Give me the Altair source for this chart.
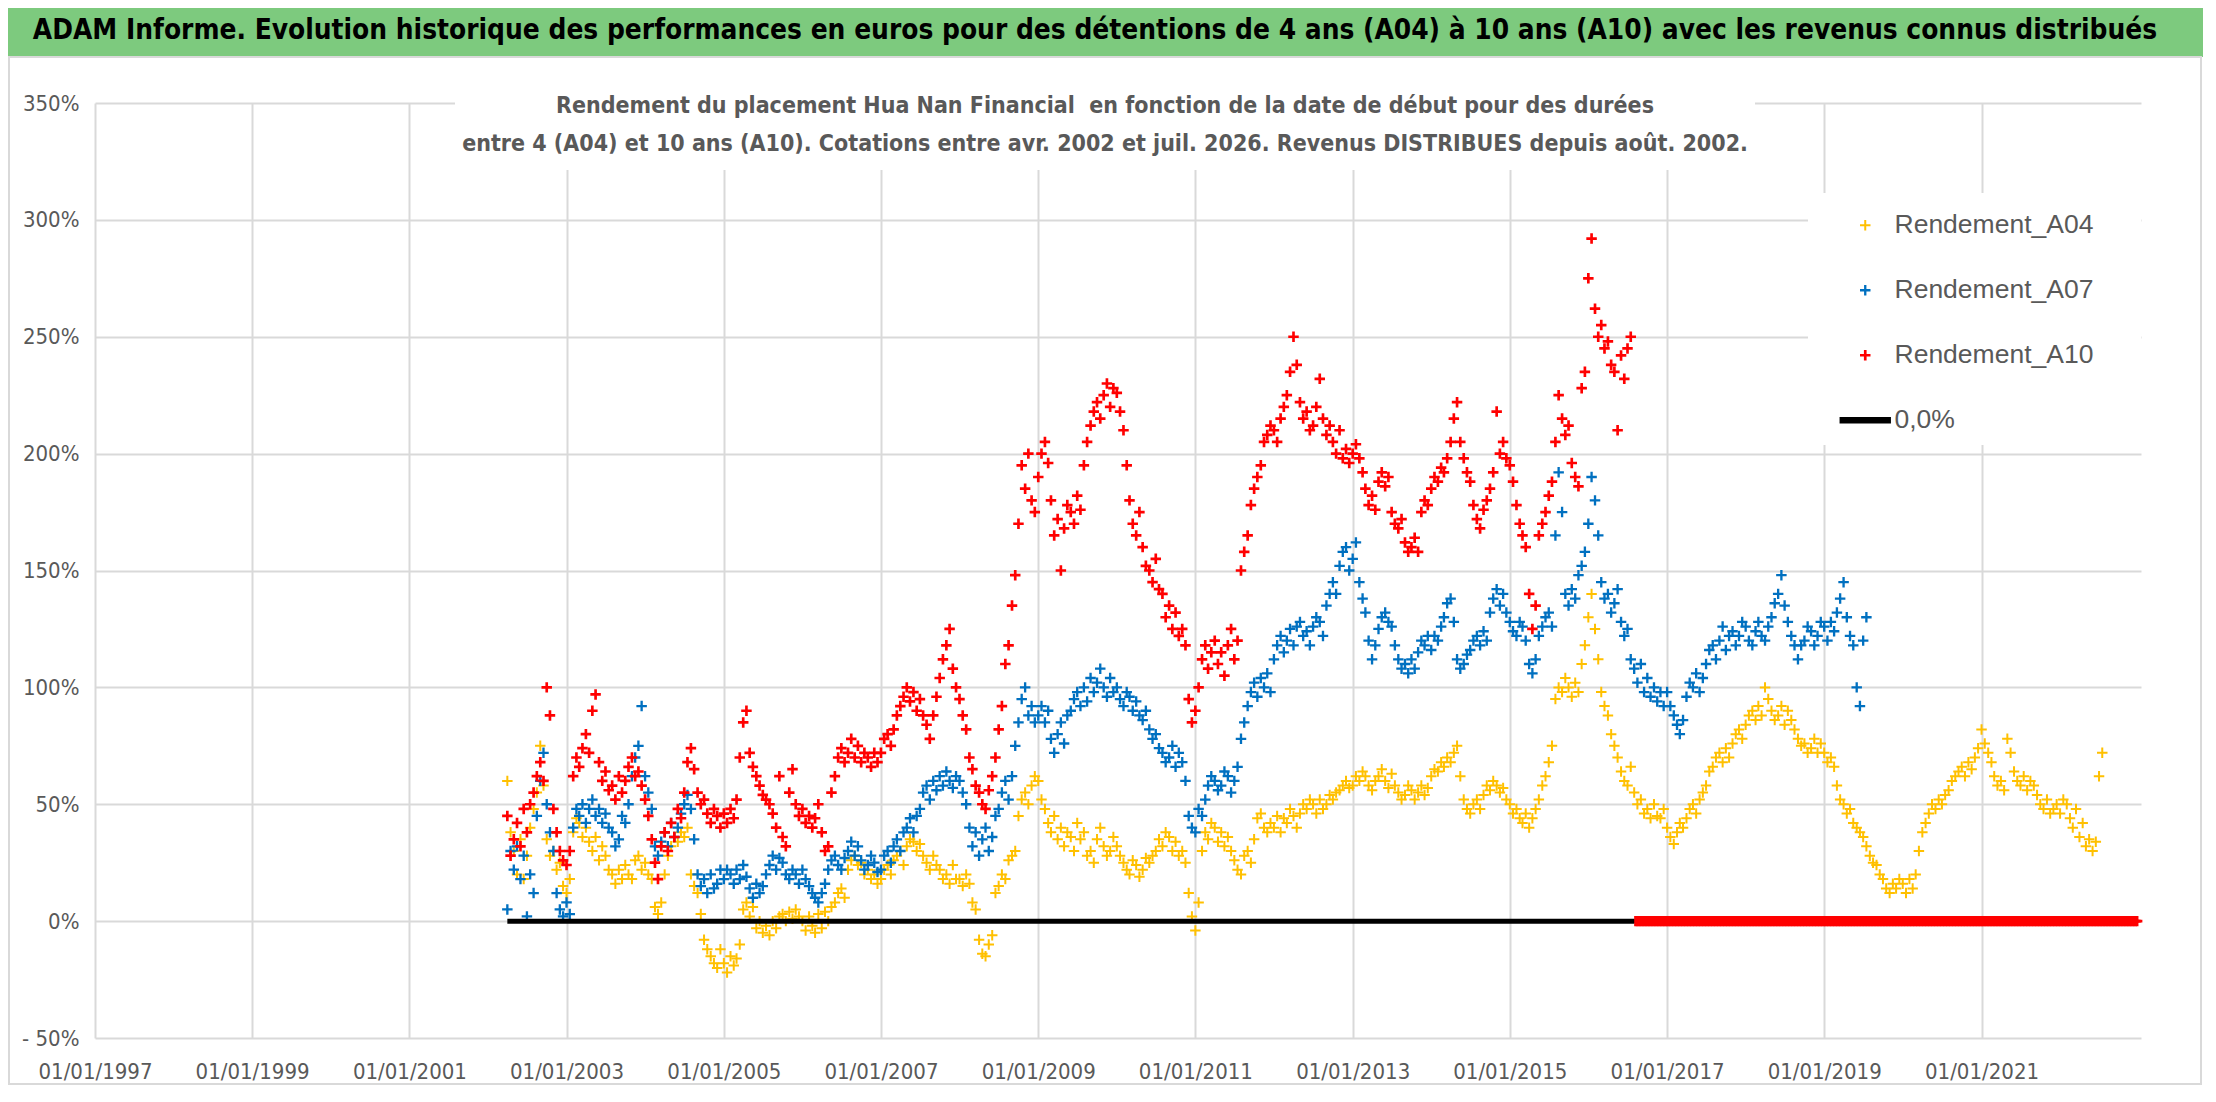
import altair as alt
import pandas as pd

TITLE = "ADAM Informe. Evolution historique des performances en euros pour des détentions de 4 ans (A04) à 10 ans (A10) avec les revenus connus distribués"
SUBTITLE_1 = "Rendement du placement Hua Nan Financial \u00a0en fonction de la date de début pour des durées"
SUBTITLE_2 = "entre 4 (A04) et 10 ans (A10). Cotations entre avr. 2002 et juil. 2026. Revenus DISTRIBUES depuis août. 2002."

SERIES = ["Rendement_A04", "Rendement_A07", "Rendement_A10", "0,0%"]
COLORS = ["#FFC000", "#0070C0", "#FF0000", "#000000"]

# readings, two per month (1st and 16th), in %
A04_START = "2002-04"
A04 = [
    60, 38, 30, 20, 35, 18, 28, 40, 48, 55, 75, 58, 35, 28, 30, 22, 25, 15,
    12, 18, 38, 44, 42, 36, 40, 34, 30, 36, 26, 32, 28, 22, 20, 16, 22, 18, 24, 20, 18, 26, 28, 22,
    25, 20, 18, 6, 3, 8, 20, 28, 32, 36, 34, 38, 36, 40, 20, 15, 12, 3, -8, -12, -15, -18, -20, -12,
    -18, -22, -15, -19, -16, -10, 5, 8, 2, 6, -3, 0, -5, -2, -6, 0, -3, 2, 3, 0, 4, 1, 5, 2,
    0, -4, 2, -2, -5, 3, -3, 4, 0, 6, 8, 12, 14, 10, 22, 26, 28, 24, 25, 20, 22, 18, 20, 16,
    18, 22, 24, 20, 26, 28, 30, 24, 32, 35, 34, 30, 33, 28, 25, 22, 28, 24, 22, 18, 20, 16, 24, 18,
    18, 15, 20, 16, 8, 5, -8, -14, -15, -10, -6, 12, 15, 20, 18, 26, 28, 30, 45, 52, 55, 50, 58, 62,
    60, 52, 48, 42, 38, 45, 35, 40, 32, 38, 36, 30, 42, 35, 38, 28, 30, 25, 35, 40, 32, 28, 30, 36,
    32, 28, 25, 22, 20, 26, 24, 19, 22, 27, 25, 28, 30, 35, 32, 38, 36, 30, 34, 28, 30, 25, 12, 2,
    -4, 8, 30, 38, 35, 42, 40, 34, 38, 32, 36, 30, 26, 22, 20, 28, 30, 25, 35, 44, 46, 40, 38, 42,
    40, 45, 38, 44, 42, 48, 45, 40, 46, 50, 48, 52, 50, 46, 52, 48, 50, 54, 52, 55, 56, 58, 60, 57,
    58, 62, 60, 64, 62, 58, 56, 60, 62, 65, 60, 57, 63, 58, 55, 52, 54, 58, 56, 52, 55, 58, 54, 57,
    62, 65, 64, 68, 66, 70, 68, 72, 75, 62, 52, 48, 46, 50, 52, 48, 54, 58, 56, 60, 58, 55, 57, 52,
    50, 46, 48, 44, 42, 46, 40, 44, 48, 52, 58, 62, 68, 75, 95, 100, 98, 104, 100, 96, 102, 98, 110, 118,
    130, 140, 125, 112, 98, 92, 88, 80, 75, 70, 64, 60, 58, 66, 55, 50, 52, 46, 48, 44, 50, 45, 44, 48,
    40, 36, 33, 38, 42, 40, 44, 48, 50, 46, 52, 55, 58, 64, 66, 70, 72, 68, 74, 70, 76, 80, 82, 78,
    84, 88, 90, 86, 92, 88, 100, 95, 90, 86, 88, 92, 84, 90, 86, 82, 78, 75, 76, 72, 74, 78, 72, 76,
    72, 68, 70, 66, 58, 52, 50, 46, 48, 42, 40, 38, 36, 32, 28, 25, 24, 20, 18, 14, 12, 16, 14, 18,
    16, 12, 18, 14, 20, 30, 38, 42, 46, 50, 48, 52, 50, 54, 56, 60, 62, 64, 66, 62, 68, 65, 70, 74,
    82, 76, 72, 68, 62, 58, 60, 56, 78, 72, 64, 60, 58, 62, 56, 60, 58, 54, 50, 48, 52, 46, 48, 50,
    46, 52, 50, 44, 40, 48, 36, 42, 32, 35, 30, 34, 62, 72,
]
A07_START = "2002-04"
A07 = [
    5, 30, 22, 32, 18, 28, 2, 20, 12, 45, 60, 72, 50, 38, 30, 12, 5, 2,
    8, 3, 40, 48, 45, 50, 42, 48, 52, 45, 48, 42, 46, 40, 38, 32, 35, 45, 42, 50, 62, 70, 75, 92,
    62, 55, 48, 32, 28, 34, 38, 32, 42, 36, 40, 46, 50, 54, 48, 35, 20, 15, 18, 12, 20, 14, 16, 22,
    18, 22, 20, 16, 22, 18, 24, 19, 14, 10, 16, 12, 15, 20, 24, 28, 22, 27, 25, 20, 18, 22, 20, 16,
    22, 18, 15, 12, 10, 8, 12, 16, 22, 26, 28, 24, 22, 27, 30, 34, 28, 32, 26, 22, 24, 28, 25, 21,
    22, 28, 30, 25, 32, 35, 30, 38, 40, 44, 38, 45, 48, 55, 58, 52, 60, 56, 62, 58, 64, 60, 57, 62,
    60, 55, 50, 40, 32, 38, 28, 35, 40, 30, 36, 45, 48, 55, 60, 52, 62, 75, 85, 95, 100, 88, 92, 85,
    88, 92, 85, 90, 78, 72, 80, 85, 76, 88, 90, 95, 98, 92, 100, 94, 104, 98, 102, 108, 100, 96, 104, 98,
    100, 95, 92, 98, 96, 90, 94, 88, 86, 90, 82, 78, 80, 74, 72, 68, 70, 75, 66, 72, 68, 60, 45, 40,
    38, 48, 45, 52, 58, 62, 60, 56, 58, 64, 62, 55, 60, 66, 78, 85, 92, 98, 102, 96, 104, 100, 106, 98,
    112, 118, 122, 115, 120, 125, 118, 126, 128, 122, 124, 118, 126, 130, 128, 122, 135, 140, 145, 140, 152, 158, 160, 150,
    155, 162, 145, 138, 132, 120, 112, 118, 125, 130, 132, 128, 126, 118, 112, 108, 110, 106, 112, 108, 115, 120, 118, 122,
    116, 122, 120, 126, 130, 136, 138, 128, 112, 108, 110, 114, 116, 120, 122, 118, 124, 120, 132, 138, 142, 135, 140, 132,
    128, 124, 122, 128, 126, 120, 110, 106, 112, 122, 126, 130, 132, 126, 165, 192, 175, 140, 135, 142, 138, 148, 152, 158,
    170, 190, 180, 165, 145, 138, 140, 132, 136, 142, 128, 122, 125, 112, 108, 102, 110, 98, 104, 96, 100, 94, 98, 92,
    98, 92, 88, 84, 80, 86, 96, 102, 100, 106, 98, 104, 110, 116, 118, 112, 120, 126, 116, 122, 124, 118, 122, 128,
    126, 120, 118, 124, 128, 122, 120, 126, 130, 136, 140, 148, 135, 128, 122, 118, 112, 118, 120, 126, 124, 118, 122, 128,
    126, 120, 128, 124, 132, 138, 145, 130, 122, 118, 100, 92, 120, 130,
]
A10_START = "2002-04"
A10 = [
    45, 28, 35, 42, 32, 48, 38, 50, 55, 62, 68, 60, 100, 88, 48, 38, 30, 26,
    24, 30, 62, 70, 66, 74, 80, 72, 90, 97, 68, 60, 64, 56, 58, 52, 62, 55, 60, 66, 70, 62, 64, 58,
    52, 45, 35, 25, 18, 32, 38, 30, 42, 36, 48, 44, 55, 68, 74, 65, 55, 50, 52, 46, 42, 48, 45, 40,
    46, 42, 48, 44, 52, 70, 85, 90, 72, 66, 62, 58, 54, 52, 50, 46, 40, 62, 36, 32, 55, 65, 50, 45,
    48, 42, 45, 40, 44, 50, 38, 30, 32, 55, 62, 70, 74, 68, 72, 78, 70, 75, 68, 72, 70, 66, 72, 68,
    72, 78, 80, 75, 82, 88, 92, 96, 100, 94, 98, 90, 95, 88, 84, 78, 88, 96, 104, 112, 118, 125, 108, 100,
    95, 88, 82, 70, 65, 58, 55, 50, 48, 56, 62, 70, 82, 92, 110, 118, 135, 148, 170, 195, 185, 200, 180, 175,
    190, 200, 205, 196, 180, 165, 172, 150, 168, 178, 175, 170, 182, 176, 195, 205, 212, 218, 222, 215, 225, 230, 220, 228,
    226, 218, 210, 195, 180, 170, 165, 175, 160, 152, 150, 145, 155, 142, 140, 130, 135, 125, 132, 122, 125, 118, 95, 85,
    90, 100, 112, 118, 108, 115, 120, 110, 115, 105, 118, 125, 112, 120, 150, 158, 165, 178, 185, 190, 195, 205, 208, 212,
    210, 205, 215, 220, 225, 235, 250, 238, 222, 215, 218, 210, 212, 220, 232, 215, 208, 212, 205, 200, 210, 198, 202, 196,
    200, 204, 198, 192, 185, 178, 182, 176, 188, 192, 186, 190, 175, 170, 168, 172, 162, 158, 160, 164, 158, 175, 180, 178,
    185, 190, 188, 194, 192, 198, 205, 215, 222, 205, 198, 192, 188, 178, 172, 168, 176, 180, 185, 192, 218, 200, 205, 198,
    195, 188, 178, 170, 165, 160, 140, 125, 135, 165, 170, 175, 182, 188, 205, 225, 215, 208, 212, 196, 190, 186, 228, 235,
    275, 292, 262, 250, 255, 245, 248, 238, 235, 210, 242, 232, 245, 250,
]
# A10 is plotted at 0 once no 10-year window is left
A10_ZERO_FROM = "2016-08-01"
A10_ZERO_TO = "2022-12-31"
ZERO_LINE_DATES = ["2002-04-01", "2016-08-01"]
ZERO_LINE_VALUES = [0, 0]

TICK_YEARS = [1997, 1999, 2001, 2003, 2005, 2007, 2009, 2011, 2013, 2015, 2017, 2019, 2021]
Y_TICKS = [-0.5, 0, 0.5, 1, 1.5, 2, 2.5, 3, 3.5]

COND = "DejaVu Sans Condensed, sans-serif"
GREY = "#595959"
GRID = "#d9d9d9"
PLUS = "M-1,0L1,0M0,-1L0,1"
DASH = "M-4.9,-0.33L4.9,-0.33M-4.9,0L4.9,0M-4.9,0.33L4.9,0.33"
MARK_SIZE = 110

W, H = 2046, 935


def semi_monthly(start, values, name):
    months = pd.period_range(start, periods=(len(values) + 1) // 2, freq="M")
    rows = []
    for i, v in enumerate(values):
        m = months[i // 2]
        day = 1 if i % 2 == 0 else 16
        rows.append({"date": f"{m.year}-{m.month:02d}-{day:02d}", "value": v / 100, "serie": name})
    return rows


rows = semi_monthly(A04_START, A04, "Rendement_A04")
rows += semi_monthly(A07_START, A07, "Rendement_A07")
rows += semi_monthly(A10_START, A10, "Rendement_A10")
rows += [{"date": d.strftime("%Y-%m-%d"), "value": 0.0, "serie": "Rendement_A10"}
         for d in pd.date_range(A10_ZERO_FROM, A10_ZERO_TO, freq="W")]
df = pd.DataFrame(rows)

x_scale = alt.Scale(type="utc", domain=[alt.DateTime(year=1997, month=1, date=1, utc=True),
                                        alt.DateTime(year=2023, month=1, date=12, utc=True)])
x_axis = alt.Axis(values=[alt.DateTime(year=y, month=1, date=1, utc=True) for y in TICK_YEARS],
                  labelExpr="utcFormat(datum.value, '%d/%m/%Y')", title=None,
                  grid=True, gridColor=GRID, gridWidth=2, domain=False, ticks=False,
                  labelFont=COND, labelFontSize=22, labelColor=GREY, labelPadding=23,
                  labelOverlap=False, labelFlush=False)
y_axis = alt.Axis(values=Y_TICKS, title=None,
                  labelExpr="datum.value < 0 ? '- ' + format(-datum.value, '.0%') : format(datum.value, '.0%')",
                  grid=True, gridColor=GRID, gridWidth=2, domain=False, ticks=False,
                  labelFont=COND, labelFontSize=22, labelColor=GREY, labelPadding=16)

legend_kw = dict(title=None, orient="none", legendX=1757, legendY=109, labelFont="Liberation Sans",
                 labelFontSize=26.5, labelColor=GREY, labelOffset=16, labelLimit=400, rowPadding=38,
                 padding=0, symbolStrokeWidth=2, symbolSize=MARK_SIZE)

points = alt.Chart(df).mark_point(filled=False, size=MARK_SIZE, opacity=1).encode(
    x=alt.X("date:T", scale=x_scale, axis=x_axis),
    y=alt.Y("value:Q", scale=alt.Scale(domain=[-0.5, 3.5]), axis=y_axis),
    color=alt.Color("serie:N", scale=alt.Scale(domain=SERIES, range=COLORS), legend=alt.Legend(**legend_kw)),
    shape=alt.Shape("serie:N", scale=alt.Scale(domain=SERIES, range=[PLUS, PLUS, PLUS, DASH]),
                    legend=alt.Legend(**legend_kw)),
    strokeWidth=alt.StrokeWidth("serie:N", scale=alt.Scale(domain=SERIES, range=[2, 3, 3, 2]), legend=None),
)

zero_line = alt.Chart(pd.DataFrame({"date": ZERO_LINE_DATES, "value": ZERO_LINE_VALUES})).mark_line(
    color="black", strokeWidth=5).encode(x="date:T", y="value:Q")

one = pd.DataFrame({"k": [0]})
banner = alt.Chart(one).mark_rect(color="#7dca7e").encode(
    x=alt.value(-87), x2=alt.value(W + 62), y=alt.value(-95), y2=alt.value(-46))
frame = alt.Chart(one).mark_rect(fillOpacity=0, stroke=GRID, strokeWidth=2).encode(
    x=alt.value(-86), x2=alt.value(W + 60), y=alt.value(-46), y2=alt.value(H + 46))
title = alt.Chart(one).mark_text(font=COND, fontSize=27.8, fontWeight="bold", color="black",
                                 align="center", baseline="middle").encode(
    x=alt.value(1000), y=alt.value(-72), text=alt.value(TITLE))
sub_box = alt.Chart(one).mark_rect(color="white").encode(
    x=alt.value(360), x2=alt.value(1660), y=alt.value(-28), y2=alt.value(67))
legend_box = alt.Chart(one).mark_rect(color="white").encode(
    x=alt.value(1713), x2=alt.value(W), y=alt.value(90), y2=alt.value(342))
sub1 = alt.Chart(one).mark_text(font=COND, fontSize=23, fontWeight="bold", color=GREY,
                                align="center", baseline="middle").encode(
    x=alt.value(1010), y=alt.value(3), text=alt.value(SUBTITLE_1))
sub2 = alt.Chart(one).mark_text(font=COND, fontSize=23, fontWeight="bold", color=GREY,
                                align="center", baseline="middle").encode(
    x=alt.value(1010), y=alt.value(41), text=alt.value(SUBTITLE_2))

chart = alt.layer(banner, frame, sub_box, legend_box, title, sub1, sub2, points, zero_line).properties(
    width=W, height=H,
    autosize=alt.AutoSizeParams(type="none"),
    padding={"left": 87, "top": 95, "right": 62, "bottom": 48},
).configure_view(strokeWidth=0)

chart.save("out.html", embed_options={"renderer": "svg", "actions": False})
